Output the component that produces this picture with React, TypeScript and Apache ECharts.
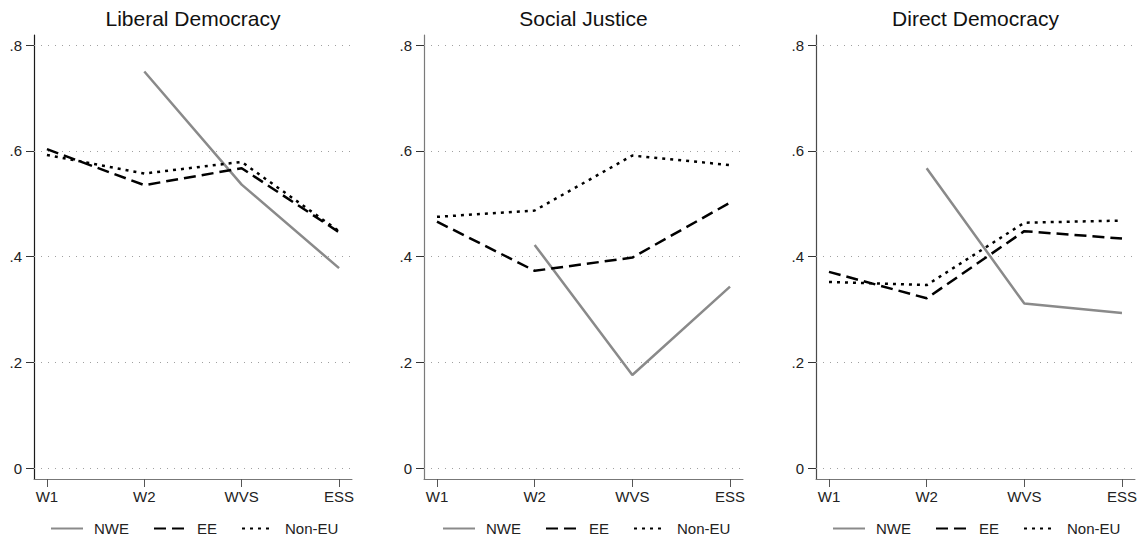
import React, { useEffect, useRef } from 'react';
import * as echarts from 'echarts';

// Survey waves on the x axis
const waves = ['W1', 'W2', 'WVS', 'ESS'];
// Y-axis ticks
const yTicks = [0, 0.2, 0.4, 0.6, 0.8];
const panelTitles = ['Liberal Democracy', 'Social Justice', 'Direct Democracy'];
const groupNames = ['NWE', 'EE', 'Non-EU'];

// Liberal Democracy
const liberalNWE = [null, 0.75, 0.536, 0.378];
const liberalEE = [0.603, 0.535, 0.567, 0.446];
const liberalNonEU = [0.592, 0.557, 0.579, 0.448];

// Social Justice
const socialNWE = [null, 0.422, 0.176, 0.343];
const socialEE = [0.466, 0.373, 0.398, 0.502];
const socialNonEU = [0.475, 0.487, 0.591, 0.573];

// Direct Democracy
const directNWE = [null, 0.567, 0.311, 0.293];
const directEE = [0.371, 0.321, 0.448, 0.434];
const directNonEU = [0.352, 0.346, 0.464, 0.468];

const panelData = [
  [liberalNWE, liberalEE, liberalNonEU],
  [socialNWE, socialEE, socialNonEU],
  [directNWE, directEE, directNonEU],
];

const FONT = "'Liberation Sans', Arial, Helvetica, sans-serif";

// Plot-area placement of the three panels
const panels = [
  { left: 34, width: 318, yAxisColor: '#1a1a1a', legendLeft: 50 },
  { left: 424, width: 319, yAxisColor: '#7a7a7a', legendLeft: 442 },
  { left: 816, width: 319, yAxisColor: '#4a4a4a', legendLeft: 832 },
];
const GRID_TOP = 35;
const GRID_BOTTOM = 62;

const lineStyles = [
  { color: '#8a8a8a', width: 2.5, type: 'solid' as any },
  { color: '#000000', width: 2.5, type: [12, 6] as any },
  { color: '#000000', width: 2.5, type: [3, 5] as any },
];

const fmtY = (v: number) => (v === 0 ? '0' : v.toFixed(1).replace(/^0/, ''));

export default function App() {
  const ref = useRef<HTMLDivElement>(null);

  useEffect(() => {
    if (!ref.current) return;
    document.documentElement.style.margin = '0';
    document.body.style.margin = '0';
    const chart = echarts.init(ref.current, undefined, { renderer: 'svg' });

    const grid = panels.map((p) => ({
      left: p.left,
      width: p.width,
      top: GRID_TOP,
      bottom: GRID_BOTTOM,
      containLabel: false,
    }));

    const xAxis = panels.map((_, i) => ({
      type: 'value',
      gridIndex: i,
      min: -0.133,
      max: 3.133,
      axisLine: { show: true, onZero: false, lineStyle: { color: '#777777', width: 1 } },
      axisTick: {
        show: true,
        length: 8,
        customValues: waves.map((_w, k) => k),
        lineStyle: { color: '#555555', width: 1 },
      },
      axisLabel: {
        customValues: waves.map((_w, k) => k),
        formatter: (v: number) => waves[Math.round(v)] ?? '',
        fontSize: 15,
        color: '#222222',
        fontFamily: FONT,
        margin: 10,
      },
      splitLine: { show: false },
    }));

    const yAxis = panels.map((p, i) => ({
      type: 'value',
      gridIndex: i,
      min: -0.0208,
      max: 0.819,
      axisLine: { show: true, onZero: false, lineStyle: { color: p.yAxisColor, width: 1.2 } },
      axisTick: {
        show: true,
        length: 8,
        customValues: yTicks,
        lineStyle: { color: '#333333', width: 1 },
      },
      axisLabel: {
        customValues: yTicks,
        formatter: fmtY,
        fontSize: 15,
        color: '#222222',
        fontFamily: FONT,
        margin: 12,
      },
      splitLine: { show: false },
    }));

    const series: any[] = [];
    panelData.forEach((groups, p) => {
      groups.forEach((vals, g) => {
        const s: any = {
          type: 'line',
          name: groupNames[g],
          xAxisIndex: p,
          yAxisIndex: p,
          data: vals
            .map((v, k) => (v == null ? null : [k, v]))
            .filter((d) => d !== null),
          symbol: 'none',
          lineStyle: lineStyles[g],
          itemStyle: { color: lineStyles[g].color },
          emphasis: { disabled: true },
          z: 3,
        };
        if (g === 0) {
          // dotted horizontal gridlines at each y tick
          s.markLine = {
            silent: true,
            symbol: ['none', 'none'],
            label: { show: false },
            lineStyle: { color: '#a0a0a0', width: 1, type: [1, 6] },
            emphasis: { disabled: true },
            data: yTicks.map((t) => ({ yAxis: t })),
            z: 1,
          };
        }
        series.push(s);
      });
    });

    const legend = panels.map((p) => ({
      data: groupNames,
      left: p.legendLeft,
      top: 521,
      padding: 0,
      orient: 'horizontal',
      itemWidth: 32,
      itemHeight: 14,
      itemGap: 24,
      selectedMode: false,
      itemStyle: { opacity: 0 },
      textStyle: {
        fontSize: 15,
        color: '#222222',
        fontFamily: FONT,
        padding: [0, 0, 0, 6],
      },
    }));

    const graphic = panels.map((p, i) => ({
      type: 'text',
      x: p.left + p.width / 2,
      y: 18,
      style: {
        text: panelTitles[i],
        align: 'center',
        verticalAlign: 'middle',
        fontSize: 21,
        fill: '#111111',
        fontFamily: FONT,
      },
    }));

    chart.setOption({
      animation: false,
      backgroundColor: '#ffffff',
      grid,
      xAxis,
      yAxis,
      series,
      legend,
      graphic,
      tooltip: { show: false },
    });

    return () => chart.dispose();
  }, []);

  return <div ref={ref} style={{ width: 1140, height: 541, background: '#fff' }} />;
}
